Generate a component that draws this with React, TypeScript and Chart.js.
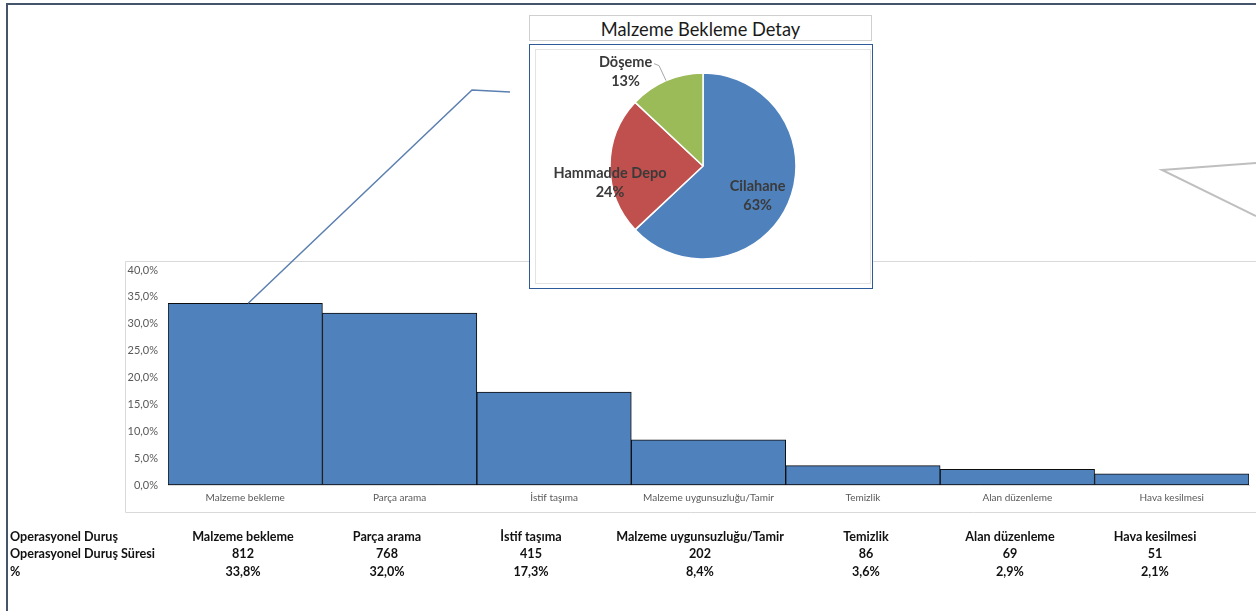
import React, { useEffect, useRef } from "react";
import { Chart, registerables } from "chart.js";

Chart.register(...registerables);

// ---- data ----
const categories = [
  "Malzeme bekleme",
  "Parça arama",
  "İstif taşıma",
  "Malzeme uygunsuzluğu/Tamir",
  "Temizlik",
  "Alan düzenleme",
  "Hava kesilmesi",
];
const durations = [812, 768, 415, 202, 86, 69, 51];
const percents = [33.8, 32.0, 17.3, 8.4, 3.6, 2.9, 2.1];
const yMin = 0;
const yMax = 40;
const yStep = 5;

const pieTitle = "Malzeme Bekleme Detay";
const pieLabels = ["Cilahane", "Hammadde Depo", "Döşeme"];
const pieValues = [63, 24, 13];
const pieColors = ["#4F81BD", "#C0504D", "#9BBB59"];

const tableRowTitles = ["Operasyonel Duruş", "Operasyonel Duruş Süresi", "%"];

// ---- styling / layout config ----
const W = 1256;
const H = 611;
const FONT = "Lato, 'Liberation Sans', sans-serif";
const tableColCenters = [243, 387, 531, 700, 866, 1010, 1155];
const tableRowY = [537, 554, 572];
// per slice: radius factor, dx, dy
const pieLabelPlace = [
  { f: 0.64, dx: 0, dy: 6 },
  { f: 1.0, dx: 0, dy: 17 },
  { f: 1.15, dx: -35, dy: 4 },
];

const fmtPct = (v: number) => v.toFixed(1).replace(".", ",") + "%";

const framePlugin = {
  id: "frame",
  beforeDraw(chart: any) {
    const ctx = chart.ctx;
    ctx.save();
    ctx.fillStyle = "#ffffff";
    ctx.fillRect(0, 0, chart.width, chart.height);
    // chart box
    ctx.strokeStyle = "#d9d9d9";
    ctx.lineWidth = 1;
    ctx.beginPath();
    ctx.moveTo(W, 261.5);
    ctx.lineTo(125.5, 261.5);
    ctx.lineTo(125.5, 512.5);
    ctx.lineTo(W, 512.5);
    ctx.stroke();
    // outer frame
    ctx.strokeStyle = "#44546a";
    ctx.lineWidth = 2;
    ctx.beginPath();
    ctx.moveTo(7, H);
    ctx.lineTo(7, 4);
    ctx.lineTo(W, 4);
    ctx.stroke();
    ctx.restore();
  },
  afterDatasetsDraw(chart: any) {
    const ctx = chart.ctx;
    const bar = chart.getDatasetMeta(0).data[0];
    ctx.save();
    ctx.strokeStyle = "#5b7fb0";
    ctx.lineWidth = 1.5;
    ctx.beginPath();
    ctx.moveTo(bar.x + 3, bar.y);
    ctx.lineTo(472, 90);
    ctx.lineTo(510, 92);
    ctx.stroke();
    ctx.strokeStyle = "#bfbfbf";
    ctx.lineWidth = 2;
    ctx.beginPath();
    ctx.moveTo(W, 163);
    ctx.lineTo(1162, 170);
    ctx.lineTo(W, 216);
    ctx.stroke();
    ctx.restore();
  },
};

const pieLabelPlugin = {
  id: "pieLabels",
  afterDatasetsDraw(chart: any) {
    const ctx = chart.ctx;
    const meta = chart.getDatasetMeta(0);
    const total = pieValues.reduce((a, b) => a + b, 0);
    ctx.save();
    ctx.font = `bold 14.5px ${FONT}`;
    ctx.fillStyle = "#3a3a3a";
    ctx.textAlign = "center";
    ctx.textBaseline = "middle";
    meta.data.forEach((arc: any, i: number) => {
      const mid = (arc.startAngle + arc.endAngle) / 2;
      const r = arc.outerRadius;
      const p = pieLabelPlace[i];
      const cx = arc.x + Math.cos(mid) * r * p.f + p.dx;
      const cy = arc.y + Math.sin(mid) * r * p.f + p.dy;
      const pct = Math.round((pieValues[i] / total) * 100) + "%";
      ctx.fillText(pieLabels[i], cx, cy - 9.5);
      ctx.fillText(pct, cx, cy + 9.5);
      if (p.f > 1.05) {
        const ex = arc.x + Math.cos(mid) * r;
        const ey = arc.y + Math.sin(mid) * r;
        ctx.strokeStyle = "#a6a6a6";
        ctx.lineWidth = 1;
        ctx.beginPath();
        ctx.moveTo(ex, ey);
        ctx.lineTo(ex - 7, ey - 15);
        ctx.lineTo(ex - 12, ey - 17);
        ctx.stroke();
      }
    });
    ctx.restore();
  },
};

export default function App() {
  const barRef = useRef<HTMLCanvasElement>(null);
  const pieRef = useRef<HTMLCanvasElement>(null);

  useEffect(() => {
    const bar = new Chart(barRef.current!, {
      type: "bar",
      data: {
        labels: categories,
        datasets: [
          {
            data: percents,
            backgroundColor: "#4F81BD",
            borderColor: "#0d0d0d",
            borderWidth: 1,
            borderSkipped: false,
            barPercentage: 1,
            categoryPercentage: 1,
          },
        ],
      },
      options: {
        animation: false,
        responsive: false,
        devicePixelRatio: 1,
        layout: { padding: { left: 125, top: 270, right: 7, bottom: 99 } },
        plugins: { legend: { display: false }, tooltip: { enabled: false } },
        scales: {
          x: {
            grid: { display: false, drawTicks: false },
            border: { display: true, color: "#d9d9d9", width: 1 },
            ticks: {
              color: "#595959",
              font: { family: FONT, size: 10 },
              padding: 7,
              maxRotation: 0,
              autoSkip: false,
            },
            afterFit: (s: any) => {
              s.height = 27;
            },
          },
          y: {
            min: yMin,
            max: yMax,
            grid: { display: false, drawTicks: false },
            border: { display: false },
            ticks: {
              stepSize: yStep,
              color: "#595959",
              font: { family: FONT, size: 11 },
              padding: 10,
              callback: (v: any) => fmtPct(Number(v)),
            },
            afterFit: (s: any) => {
              s.width = 43;
            },
          },
        },
      },
      plugins: [framePlugin],
    });

    const pie = new Chart(pieRef.current!, {
      type: "pie",
      data: {
        labels: pieLabels,
        datasets: [
          {
            data: pieValues,
            backgroundColor: pieColors,
            borderColor: "#ffffff",
            borderWidth: 1.5,
          },
        ],
      },
      options: {
        animation: false,
        responsive: false,
        devicePixelRatio: 1,
        radius: 93,
        plugins: { legend: { display: false }, tooltip: { enabled: false } },
      } as any,
      plugins: [pieLabelPlugin],
    });

    return () => {
      bar.destroy();
      pie.destroy();
    };
  }, []);

  const cell = (text: string, x: number, y: number, align: "left" | "center") => (
    <div
      key={`${text}-${x}-${y}`}
      style={{
        position: "absolute",
        left: align === "left" ? x : x - 150,
        width: align === "left" ? 200 : 300,
        top: y - 8,
        height: 16,
        lineHeight: "16px",
        textAlign: align,
        font: `bold 12.6px ${FONT}`,
        color: "#111",
        whiteSpace: "nowrap",
      }}
    >
      {text}
    </div>
  );

  return (
    <div
      style={{
        position: "absolute",
        left: 0,
        top: 0,
        width: W,
        height: H,
        overflow: "hidden",
        background: "#fff",
      }}
    >
      <canvas ref={barRef} width={W} height={H} style={{ position: "absolute", left: 0, top: 0 }} />
      {/* pie title box */}
      <div
        style={{
          position: "absolute",
          left: 529,
          top: 15,
          width: 343,
          height: 26,
          border: "1px solid #cfcfcf",
          background: "#fff",
          textAlign: "center",
          font: `18.3px ${FONT}`,
          lineHeight: "27px",
          color: "#1a1a1a",
          boxSizing: "border-box",
        }}
      >
        {pieTitle}
      </div>
      {/* pie box */}
      <div
        style={{
          position: "absolute",
          left: 529,
          top: 44,
          width: 344,
          height: 245,
          border: "1.5px solid #2f5a9a",
          background: "#fff",
          boxSizing: "border-box",
        }}
      />
      <div
        style={{
          position: "absolute",
          left: 535,
          top: 49,
          width: 336,
          height: 235,
          border: "1px solid #e3e3e3",
          boxSizing: "border-box",
        }}
      />
      <canvas ref={pieRef} width={336} height={234} style={{ position: "absolute", left: 535, top: 49 }} />
      {/* table */}
      {tableRowTitles.map((t, r) => cell(t, 10, tableRowY[r], "left"))}
      {categories.map((c, i) => cell(c, tableColCenters[i], tableRowY[0], "center"))}
      {durations.map((d, i) => cell(String(d), tableColCenters[i], tableRowY[1], "center"))}
      {percents.map((p, i) => cell(fmtPct(p), tableColCenters[i], tableRowY[2], "center"))}
    </div>
  );
}
